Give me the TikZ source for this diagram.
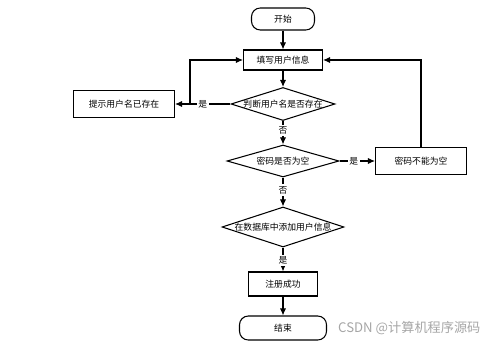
\documentclass[tikz,border=0pt]{standalone}
\usepackage{fontspec}
\newfontfamily\cjk{Noto Sans CJK SC}
\usetikzlibrary{arrows.meta, positioning, shapes.geometric}

\newcommand{\nowidth}[1]{\makebox[0pt]{#1}}

\begin{document}
\begin{tikzpicture}[
    font=\cjk\fontsize{5}{6}\selectfont,
    startstop/.style={draw, rounded corners=5pt, semithick, inner sep=0pt},
    process/.style={draw, semithick, inner sep=0pt},
    decision/.style={draw, diamond, semithick, inner sep=0pt},
    arrow/.style={-{Latex[length=4pt, width=3.5pt]}, semithick},
    tag/.style={fill=white, inner sep=1pt}
  ]
  \useasboundingbox (0,0) rectangle (10,6.84);

  % Main column
  \node[startstop, minimum width=1.26cm, minimum height=0.44cm] (start) at (5.66,6.46) {开始};
  \node[process, minimum width=1.58cm, minimum height=0.40cm] (input) at (5.66,5.64) {填写用户信息};
  \node[decision, minimum width=2.08cm, minimum height=0.66cm] (exists) at (5.66,4.76) {\nowidth{判断用户名是否存在}};
  \node[decision, minimum width=2.24cm, minimum height=0.64cm] (empty) at (5.66,3.62) {\nowidth{密码是否为空}};
  \node[decision, minimum width=2.44cm, minimum height=0.80cm] (insert) at (5.66,2.30) {\nowidth{在数据库中添加用户信息}};
  \node[process, minimum width=1.38cm, minimum height=0.48cm] (success) at (5.66,1.16) {注册成功};
  \node[startstop, minimum width=1.74cm, minimum height=0.48cm] (stop) at (5.66,0.28) {结束};

  % Side boxes
  \node[process, minimum width=2.02cm, minimum height=0.54cm] (hint) at (2.48,4.76) {提示用户名已存在};
  \node[process, minimum width=1.82cm, minimum height=0.54cm] (nopwd) at (8.42,3.62) {密码不能为空};

  % Junctions of the loops
  \coordinate (jleft) at (3.80,4.76);
  \coordinate (jleftup) at (3.80,5.64);
  \coordinate (jright) at (8.42,5.64);

  % Flow down
  \draw[arrow] (start) -- (input);
  \draw[arrow] (input) -- (exists);
  \draw[arrow] (exists) -- node[tag, pos=0.4] {否} (empty);
  \draw[arrow] (empty) -- node[tag, pos=0.43] {否} (insert);
  \draw[arrow] (insert) -- node[tag, pos=0.55] {是} (success);
  \draw[arrow] (success) -- (stop);

  % Username exists
  \draw[arrow] (exists) -- node[tag, pos=0.5] {是} (hint);
  \draw[arrow] (jleft) -- (jleftup) -- (input);

  % Empty password
  \draw[arrow] (empty) -- node[tag, pos=0.4] {是} (nopwd);
  \draw[arrow] (nopwd) -- (jright) -- (input);

  % Watermark
  \node[text=gray!70, font=\cjk\fontsize{7.5}{9}\selectfont, anchor=west] (mark) at (6.64,0.28) {CSDN @计算机程序源码};
\end{tikzpicture}
\end{document}
